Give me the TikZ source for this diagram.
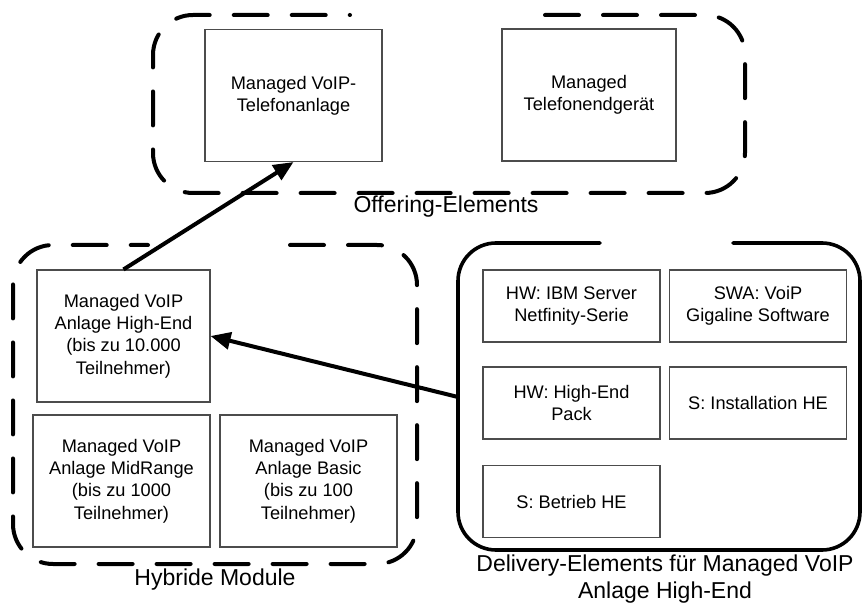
\documentclass[tikz,border=0pt]{standalone}
\usepackage{fontspec}
\setmainfont{Liberation Sans}
\usepackage{tikz}
\usetikzlibrary{arrows.meta}

\begin{document}
\begin{tikzpicture}[
  x=1pt, y=-1pt,
  elem/.style={rectangle, draw=black!70, line width=1.1pt, align=center,
    minimum width=177pt, inner sep=2pt, font=\fontsize{18.2}{22.3}\selectfont},
  tall/.style={elem, minimum height=132pt},
  flat/.style={elem, minimum height=72pt},
  grpdash/.style={line width=4pt, line cap=round, rounded corners=40pt,
    dash pattern=on 34pt off 24pt},
  grpsolid/.style={line width=3.6pt, line cap=round, rounded corners=38pt},
  grplabel/.style={align=center, font=\fontsize{23}{27}\selectfont},
  >={Triangle[length=20pt, width=17pt]}
]
  \useasboundingbox (0,0) rectangle (863,604);

  % Offering-Elements
  \node[tall] (tel) at (293.5,95.5) {Managed VoIP-\\Telefonanlage};
  \node[tall, minimum width=174pt] (geraet) at (589,95) {Managed\\Telefonendgerät};
  \draw[grpdash] (545,15) -- (745,15) -- (745,193) -- (153,193) -- (153,15) -- (350,15);
  \node[grplabel] (offlbl) at (446,207) {Offering-Elements};

  % Hybride Module
  \node[tall, minimum width=173pt] (he) at (123.5,336) {Managed VoIP\\Anlage High-End\\(bis zu 10.000\\Teilnehmer)};
  \node[tall] (mid) at (121.5,481) {Managed VoIP\\Anlage MidRange\\(bis zu 1000\\Teilnehmer)};
  \node[tall] (basic) at (308.5,481) {Managed VoIP\\Anlage Basic\\(bis zu 100\\Teilnehmer)};
  \draw[grpdash] (290,245) -- (417,245) -- (417,564) -- (13,564) -- (13,245) -- (148,245);
  \node[grplabel] (hyblbl) at (215,580) {Hybride Module};

  % Delivery-Elements
  \node[flat] (ibm) at (571.5,306) {HW: IBM Server\\Netfinity-Serie};
  \node[flat] (swa) at (758,306) {SWA: VoiP\\Gigaline Software};
  \node[flat] (pack) at (571.5,403) {HW: High-End\\Pack};
  \node[flat] (inst) at (758,403) {S: Installation HE};
  \node[flat] (betr) at (571.5,501.5) {S: Betrieb HE};
  \draw[grpsolid] (733,243) -- (860,243) -- (860,550) -- (458,550) -- (458,243) -- (600,243);
  \coordinate (dlv) at (458,397);
  \node[grplabel] (dlvlbl) at (665,579) {Delivery-Elements für Managed VoIP\\Anlage High-End};

  % Arrows
  \draw[->, line width=4pt] (he.north) -- (tel.south);
  \draw[->, line width=4pt] (dlv) -- (he.east);
\end{tikzpicture}
\end{document}
